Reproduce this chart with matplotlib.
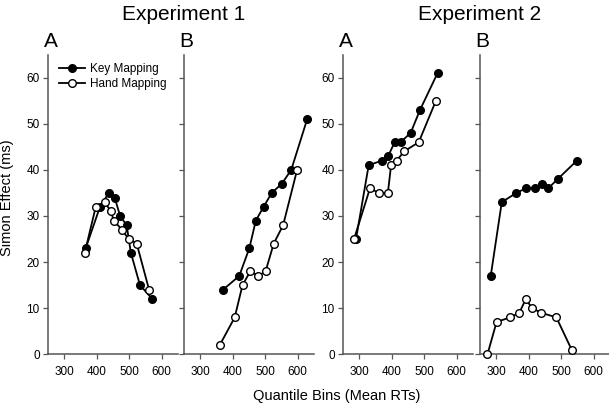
import matplotlib
matplotlib.use("Agg")
import matplotlib.pyplot as plt

plt.rcParams['font.family'] = ['Liberation Sans', 'DejaVu Sans']

# Experiment 1, panel A
e1a_key_x = [366, 410, 437, 455, 472, 492, 505, 533, 571]
e1a_key_y = [23, 32, 35, 34, 30, 28, 22, 15, 12]
e1a_hand_x = [363, 397, 424, 444, 452, 478, 498, 523, 561]
e1a_hand_y = [22, 32, 33, 31, 29, 27, 25, 24, 14]

# Experiment 1, panel B
e1b_key_x = [370, 420, 451, 471, 495, 520, 551, 580, 629]
e1b_key_y = [14, 17, 23, 29, 32, 35, 37, 40, 51]
e1b_hand_x = [360, 406, 430, 454, 479, 501, 526, 555, 598]
e1b_hand_y = [2, 8, 15, 18, 17, 18, 24, 28, 40]

# Experiment 2, panel A
e2a_key_x = [290, 329, 369, 389, 409, 427, 458, 487, 541]
e2a_key_y = [25, 41, 42, 43, 46, 46, 48, 53, 61]
e2a_hand_x = [284, 333, 360, 388, 398, 415, 438, 483, 536]
e2a_hand_y = [25, 36, 35, 35, 41, 42, 44, 46, 55]

# Experiment 2, panel B
e2b_key_x = [283, 317, 362, 391, 419, 440, 460, 489, 548]
e2b_key_y = [17, 33, 35, 36, 36, 37, 36, 38, 42]
e2b_hand_x = [273, 301, 342, 371, 391, 410, 439, 485, 532]
e2b_hand_y = [0, 7, 8, 9, 12, 10, 9, 8, 1]

panels = [
    (e1a_key_x, e1a_key_y, e1a_hand_x, e1a_hand_y, "A"),
    (e1b_key_x, e1b_key_y, e1b_hand_x, e1b_hand_y, "B"),
    (e2a_key_x, e2a_key_y, e2a_hand_x, e2a_hand_y, "A"),
    (e2b_key_x, e2b_key_y, e2b_hand_x, e2b_hand_y, "B"),
]

W, H = 609, 405
fig = plt.figure(figsize=(W / 100, H / 100), dpi=100)

lefts = [48, 184, 343, 480]
ax_w = 130
ax_bottom = 354.3
ax_h = 299.7
spine_col = '#555555'

axes = []
for i, (kx, ky, hx, hy, lab) in enumerate(panels):
    ax = fig.add_axes([lefts[i] / W, (H - ax_bottom) / H, ax_w / W, ax_h / H])
    ax.plot(kx, ky, '-o', color='black', lw=1.3, ms=5.5, mfc='black', mec='black',
            clip_on=False, zorder=3, label='Key Mapping')
    ax.plot(hx, hy, '-o', color='black', lw=1.3, ms=5.5, mfc='white', mec='black',
            mew=1.0, clip_on=False, zorder=4, label='Hand Mapping')
    ax.set_xlim(250, 650)
    ax.set_ylim(0, 65)
    ax.set_xticks([300, 400, 500, 600])
    ax.set_yticks([0, 10, 20, 30, 40, 50, 60])
    for s in ['top', 'right']:
        ax.spines[s].set_visible(False)
    for s in ['left', 'bottom']:
        ax.spines[s].set_color(spine_col)
        ax.spines[s].set_linewidth(1.1)
    ax.tick_params(axis='both', direction='out', length=3.5, width=0.9,
                   color=spine_col, labelsize=8.5)
    ax.tick_params(axis='x', pad=5)
    ax.tick_params(axis='y', pad=2.5)
    if i in (1, 3):
        ax.tick_params(axis='y', labelleft=False)
    ax.text(0.02, 1.012, lab, transform=ax.transAxes, ha='center', va='bottom',
            fontsize=15)
    axes.append(ax)

axes[0].legend(loc='upper left', bbox_to_anchor=(0.02, 1.0), frameon=False,
               fontsize=8.5, handlelength=2.2, handletextpad=0.4,
               labelspacing=0.25, borderaxespad=0.3)

fig.text(184 / W, 1 - 19.5 / H, "Experiment 1", ha='center', va='baseline', fontsize=15)
fig.text(480 / W, 1 - 19.5 / H, "Experiment 2", ha='center', va='baseline', fontsize=15)
fig.text(337 / W, 1 - 400 / H, "Quantile Bins (Mean RTs)", ha='center', va='baseline',
         fontsize=10.5)
fig.text(7 / W, 1 - 198 / H, "Simon Effect (ms)", ha='center', va='center',
         rotation=90, fontsize=10.5)

fig.savefig("out.png", dpi=100)
